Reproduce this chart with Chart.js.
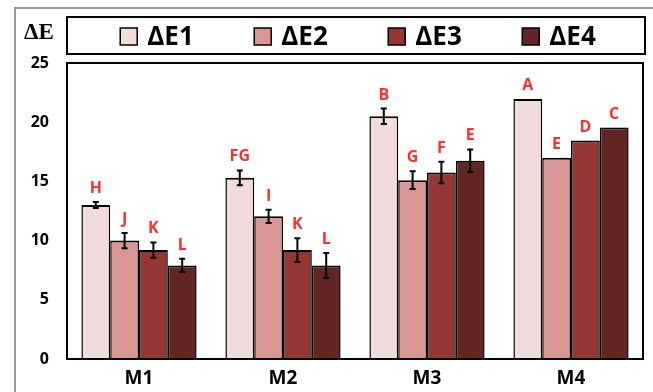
<!DOCTYPE html>
<html lang="en">
<head>
    <meta charset="UTF-8" />
    <title>ΔE</title>
    <script src="https://cdn.jsdelivr.net/npm/chart.js"></script>
    <style>
        html, body { margin: 0; padding: 0; background: #fff; overflow: hidden; }
        .wrap { position: relative; width: 653px; height: 392px; }
        .frame {
            position: absolute; left: 14px; top: 7px; width: 700px; height: 500px;
            border-left: 2px solid #9a9a9a; border-top: 2px solid #9a9a9a;
        }
        canvas { position: absolute; left: 0; top: 0; }
    </style>
</head>
<body>
    <div class="wrap">
        <div class="frame"></div>
        <canvas id="myChart" width="653" height="392"></canvas>
    </div>

    <script>
        const samples = ["M1", "M2", "M3", "M4"];
        const seriesNames = ["ΔE1", "ΔE2", "ΔE3", "ΔE4"];
        const seriesColors = ["#f2dcdb", "#d99694", "#953735", "#632523"];

        const dE1 = [13.0, 15.3, 20.5, 21.95];
        const dE2 = [10.0, 12.05, 15.1, 17.0];
        const dE3 = [9.2, 9.2, 15.75, 18.45];
        const dE4 = [7.9, 7.9, 16.75, 19.55];

        const errE1 = [0.25, 0.63, 0.65, 0];
        const errE2 = [0.65, 0.56, 0.75, 0];
        const errE3 = [0.65, 1.0, 0.9, 0];
        const errE4 = [0.56, 1.05, 0.95, 0];

        const lettersE1 = ["H", "FG", "B", "A"];
        const lettersE2 = ["J", "I", "G", "E"];
        const lettersE3 = ["K", "K", "F", "D"];
        const lettersE4 = ["L", "L", "E", "C"];

        const yTicks = [0, 5, 10, 15, 20, 25];

        const allValues = [dE1, dE2, dE3, dE4];
        const allErrors = [errE1, errE2, errE3, errE4];
        const allLetters = [lettersE1, lettersE2, lettersE3, lettersE4];

        const FONT = "'Open Sans', 'Liberation Sans', sans-serif";

        // error bars + significance letters
        const errorBarPlugin = {
            id: "errorBars",
            afterDatasetsDraw(chart) {
                const ctx = chart.ctx;
                const y = chart.scales.y;
                ctx.save();
                chart.data.datasets.forEach((ds, i) => {
                    const meta = chart.getDatasetMeta(i);
                    meta.data.forEach((bar, j) => {
                        const v = ds.data[j];
                        const e = ds.errors[j];
                        let top = y.getPixelForValue(v);
                        if (e > 0) {
                            const yHi = y.getPixelForValue(v + e);
                            const yLo = y.getPixelForValue(v - e);
                            ctx.strokeStyle = "#000";
                            ctx.lineWidth = 2;
                            ctx.beginPath();
                            ctx.moveTo(bar.x, yHi);
                            ctx.lineTo(bar.x, yLo);
                            ctx.moveTo(bar.x - 3, yHi);
                            ctx.lineTo(bar.x + 3, yHi);
                            ctx.moveTo(bar.x - 3, yLo);
                            ctx.lineTo(bar.x + 3, yLo);
                            ctx.stroke();
                            top = yHi;
                        }
                        ctx.fillStyle = "#ff2e2e";
                        ctx.font = "bold 16px " + FONT;
                        ctx.textAlign = "center";
                        ctx.textBaseline = "alphabetic";
                        ctx.fillText(ds.letters[j], bar.x, top - 9);
                    });
                });
                // plot frame
                const a = chart.chartArea;
                ctx.strokeStyle = "#000";
                ctx.lineWidth = 2;
                ctx.strokeRect(a.left, a.top, a.right - a.left, a.bottom - a.top);
                ctx.restore();
            },
        };

        // boxed legend on top and the ΔE label
        const boxLegendPlugin = {
            id: "boxLegend",
            afterDraw(chart) {
                const ctx = chart.ctx;
                const a = chart.chartArea;
                const boxTop = 17, boxBottom = 54;
                const left = a.left, right = a.right + 2;
                ctx.save();
                ctx.strokeStyle = "#000";
                ctx.lineWidth = 2;
                ctx.strokeRect(left, boxTop, right - left, boxBottom - boxTop);

                ctx.font = "bold 26px " + FONT;
                const pitch = 134, sw = 17, gap = 10;
                const lastW = ctx.measureText(seriesNames[3]).width;
                const blockW = 3 * pitch + sw + gap + lastW;
                let x = (left + right) / 2 - blockW / 2 + 2;
                const cy = (boxTop + boxBottom) / 2 + 1;
                chart.data.datasets.forEach((ds) => {
                    ctx.fillStyle = ds.backgroundColor;
                    ctx.fillRect(x, cy - sw / 2, sw, sw);
                    ctx.lineWidth = 1.5;
                    ctx.strokeStyle = "#000";
                    ctx.strokeRect(x, cy - sw / 2, sw, sw);
                    ctx.fillStyle = "#000";
                    ctx.textAlign = "left";
                    ctx.textBaseline = "middle";
                    ctx.fillText(ds.label, x + sw + gap, cy + 1);
                    x += pitch;
                });

                ctx.font = "bold 23px 'Liberation Serif', 'DejaVu Serif', serif";
                ctx.textAlign = "center";
                ctx.textBaseline = "middle";
                ctx.fillText("ΔE", 39, 33);
                ctx.restore();
            },
        };

        const ctx = document.getElementById("myChart").getContext("2d");

        new Chart(ctx, {
            type: "bar",
            data: {
                labels: samples,
                datasets: seriesNames.map((name, i) => ({
                    label: name,
                    data: allValues[i],
                    errors: allErrors[i],
                    letters: allLetters[i],
                    backgroundColor: seriesColors[i],
                    borderColor: "#000",
                    borderWidth: { top: 2, left: 1.5, right: 1.5, bottom: 0 },
                    borderSkipped: false,
                    categoryPercentage: 0.8,
                    barPercentage: 1.0,
                })),
            },
            options: {
                responsive: false,
                animation: false,
                layout: {
                    padding: { top: 63, right: 10, left: 0, bottom: 0 },
                },
                plugins: {
                    legend: { display: false },
                    tooltip: { enabled: false },
                },
                scales: {
                    y: {
                        min: 0,
                        max: 25,
                        afterFit(scale) { scale.width = 67; },
                        afterBuildTicks(scale) {
                            scale.ticks = yTicks.map((v) => ({ value: v }));
                        },
                        grid: { display: false, drawTicks: false },
                        border: { display: false },
                        ticks: {
                            color: "#000",
                            padding: 18,
                            font: { family: FONT, size: 16, weight: "bold" },
                        },
                    },
                    x: {
                        afterFit(scale) { scale.height = 33; },
                        grid: { display: false, drawTicks: false },
                        border: { display: false },
                        ticks: {
                            color: "#000",
                            padding: 8,
                            font: { family: FONT, size: 19, weight: "bold" },
                        },
                    },
                },
            },
            plugins: [errorBarPlugin, boxLegendPlugin],
        });
    </script>
</body>
</html>
